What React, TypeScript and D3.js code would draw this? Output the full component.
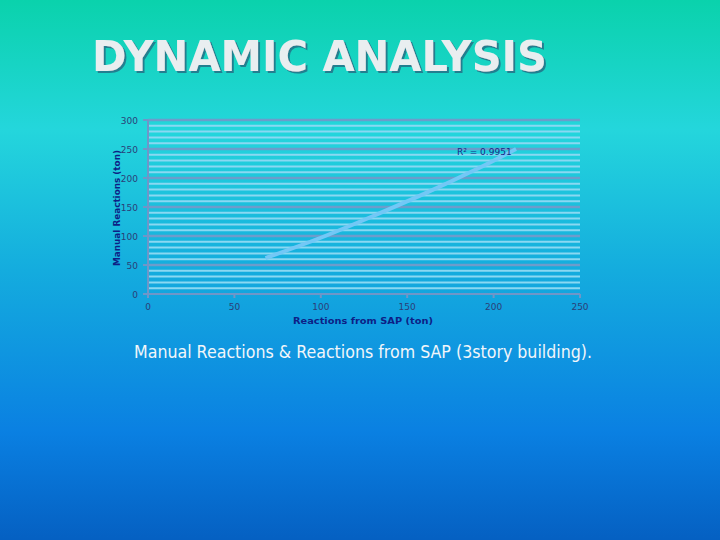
import React from "react";
import * as d3 from "d3";

const sapReactions = [68, 100, 130, 160, 190, 213];
const manualReactions = [62, 97, 134, 173, 215, 250];
const xTicks = [0, 50, 100, 150, 200, 250];
const yTicks = [0, 50, 100, 150, 200, 250, 300];
const minorStep = 10;
const titleText = "DYNAMIC ANALYSIS";
const xTitle = "Reactions from SAP (ton)";
const yTitle = "Manual Reactions (ton)";
const rLabel = "R² = 0.9951";
const caption = "Manual Reactions & Reactions from SAP (3story building).";

export default function App() {
  const W = 720, H = 540;
  const x = d3.scaleLinear().domain([0, 250]).range([148, 580]);
  const y = d3.scaleLinear().domain([0, 300]).range([294, 120]);
  const minor = d3.range(0, 300 + 1e-9, minorStep).filter((v) => v % 50 !== 0);
  const pts = sapReactions.map((v, i) => [v, manualReactions[i]] as [number, number]);
  const line = d3
    .line<[number, number]>()
    .x((d) => x(d[0]))
    .y((d) => y(d[1]))
    .curve(d3.curveNatural);

  return (
    <svg
      width={W}
      height={H}
      style={{ position: "absolute", left: 0, top: 0, display: "block" }}
    >
      <defs>
        <linearGradient id="bg" x1="0" y1="0" x2="0" y2="1">
          <stop offset="0" stopColor="#0ad2ac" />
          <stop offset="0.24" stopColor="#24d6dc" />
          <stop offset="0.5" stopColor="#14acde" />
          <stop offset="0.8" stopColor="#0a80e2" />
          <stop offset="1" stopColor="#0560c2" />
        </linearGradient>
        <filter id="shadow" x="-5%" y="-20%" width="110%" height="140%">
          <feDropShadow dx={2} dy={2} stdDeviation={0.4} floodColor="#217f90" floodOpacity={1} />
        </filter>
      </defs>
      <rect x={0} y={0} width={W} height={H} fill="url(#bg)" />

      {/* Title */}
      <text
        x={92}
        y={71}
        fontFamily="DejaVu Sans"
        fontWeight="bold"
        fontSize={43}
        fill="#e9eef0"
        textLength={455}
        lengthAdjust="spacingAndGlyphs"
        filter="url(#shadow)"
      >
        {titleText}
      </text>

      {/* Minor grid */}
      {minor.map((v) => (
        <line
          key={"m" + v}
          x1={x(0)}
          x2={x(250)}
          y1={y(v)}
          y2={y(v)}
          stroke="#8ad8f2"
          strokeWidth={2}
        />
      ))}
      {/* Major grid */}
      {yTicks.filter((v) => v > 0).map((v) => (
        <line
          key={"M" + v}
          x1={x(0)}
          x2={x(250)}
          y1={y(v)}
          y2={y(v)}
          stroke="#6d9ccb"
          strokeWidth={2.5}
        />
      ))}

      {/* Axes */}
      <line x1={x(0)} x2={x(250)} y1={y(0)} y2={y(0)} stroke="#6f96c8" strokeWidth={2} />
      <line x1={x(0)} x2={x(0)} y1={y(0)} y2={y(300)} stroke="#6f96c8" strokeWidth={2} />
      {yTicks.map((v) => (
        <line
          key={"yt" + v}
          x1={x(0) - 5}
          x2={x(0)}
          y1={y(v)}
          y2={y(v)}
          stroke="#6f96c8"
          strokeWidth={2}
        />
      ))}
      {xTicks.map((v) => (
        <line
          key={"xt" + v}
          x1={x(v)}
          x2={x(v)}
          y1={y(0)}
          y2={y(0) + 4}
          stroke="#6f96c8"
          strokeWidth={2}
        />
      ))}

      {/* Tick labels */}
      {yTicks.map((v) => (
        <text
          key={"yl" + v}
          x={x(0) - 10}
          y={y(v) + 3.5}
          textAnchor="end"
          fontFamily="DejaVu Sans"
          fontSize={9}
          fill="#2b3f78"
        >
          {v}
        </text>
      ))}
      {xTicks.map((v) => (
        <text
          key={"xl" + v}
          x={x(v)}
          y={y(0) + 16}
          textAnchor="middle"
          fontFamily="DejaVu Sans"
          fontSize={9}
          fill="#2b3f78"
        >
          {v}
        </text>
      ))}

      {/* Axis titles */}
      <text
        x={363}
        y={324}
        textAnchor="middle"
        fontFamily="DejaVu Sans"
        fontWeight="bold"
        fontSize={9.5}
        fill="#0d1f86"
        textLength={140}
        lengthAdjust="spacingAndGlyphs"
      >
        {xTitle}
      </text>
      <text
        transform={`translate(120, 208) rotate(-90)`}
        textAnchor="middle"
        fontFamily="DejaVu Sans"
        fontWeight="bold"
        fontSize={9.5}
        fill="#0d1f86"
        textLength={116}
        lengthAdjust="spacingAndGlyphs"
      >
        {yTitle}
      </text>

      {/* Trend line */}
      <path d={line(pts) || ""} fill="none" stroke="#72c8f6" strokeWidth={4} />

      <text
        x={457}
        y={155}
        fontFamily="DejaVu Sans"
        fontSize={9}
        fill="#1a2a86"
      >
        {rLabel}
      </text>

      {/* Caption */}
      <text
        x={134}
        y={358}
        fontFamily="DejaVu Sans"
        fontSize={17}
        fill="#f2f6fa"
        textLength={458}
        lengthAdjust="spacingAndGlyphs"
      >
        {caption}
      </text>
    </svg>
  );
}
